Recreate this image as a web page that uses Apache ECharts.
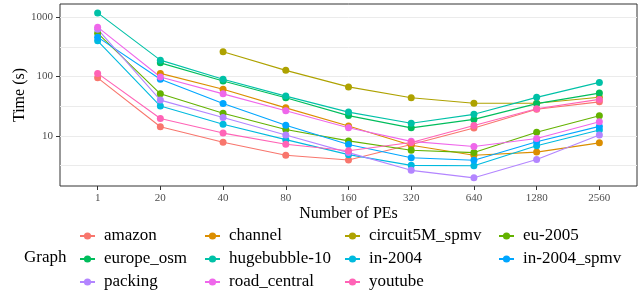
<!DOCTYPE html>
<html>
<head>
<meta charset="utf-8">
<script src="https://cdn.jsdelivr.net/npm/echarts@6/dist/echarts.min.js"></script>
<style>
  html, body { margin: 0; padding: 0; background: #fff; }
  #chart { width: 644px; height: 295px; }
</style>
</head>
<body>
<div id="chart"></div>
<script>
const categories = ['1', '20', '40', '80', '160', '320', '640', '1280', '2560'];

const amazon = [95, 14.2, 7.8, 4.7, 3.9, 7.1, 13.5, 28, 37.4];
const channel = [null, 113, 61, 29.6, 14.6, 6.9, 4.7, 5.3, 7.6];
const circuit5M_spmv = [null, null, 261, 127, 66.8, 43.8, 35.3, 35.3, 44.6];
const eu2005 = [540, 51, 24, 12.8, 8.2, 5.7, 5.2, 11.5, 21.7];
const europe_osm = [null, 170, 84, 43.7, 21.9, 13.6, 18.9, 34.9, 52.5];
const hugebubble10 = [1186, 189, 90, 46.7, 25.1, 16.3, 23, 44.5, 79.6];
const in2004 = [400, 31.7, 15.7, 8.6, 4.8, 3.17, 3.12, 6.8, 12.5];
const in2004_spmv = [462, 90, 35, 15.1, 7.1, 4.26, 3.86, 7.9, 14.4];
const packing = [630, 40, 20.3, 10.3, 5.2, 2.61, 1.95, 3.97, 10.3];
const road_central = [681, 98, 51, 26.4, 13.7, 8.05, 6.6, 9.0, 17.3];
const youtube = [113, 19.6, 11.1, 7.2, 5.6, 7.7, 14.9, 28.5, 41.1];

const yMajorTicks = [10, 100, 1000];
const yGridValues = [3.162, 10, 31.62, 100, 316.2, 1000];

const graphs = [
    ['amazon', amazon, '#F8766D'],
    ['channel', channel, '#DB8E00'],
    ['circuit5M_spmv', circuit5M_spmv, '#AEA200'],
    ['eu-2005', eu2005, '#64B200'],
    ['europe_osm', europe_osm, '#00BD5C'],
    ['hugebubble-10', hugebubble10, '#00C1A7'],
    ['in-2004', in2004, '#00BADE'],
    ['in-2004_spmv', in2004_spmv, '#00A6FF'],
    ['packing', packing, '#B385FF'],
    ['road_central', road_central, '#EF67EB'],
    ['youtube', youtube, '#FF63B6'],
];

const font = 'Liberation Serif';
const idx = categories.map((c, i) => i);

const legendCol = (names, left) => ({
    orient: 'vertical',
    left: left,
    top: 226,
    padding: 0,
    itemGap: 3,
    itemWidth: 15,
    itemHeight: 9,
    data: names,
    textStyle: { fontFamily: font, fontSize: 17, color: '#000', lineHeight: 20, padding: [0, 0, 0, 4] },
});

const chart = echarts.init(document.getElementById('chart'), null, { renderer: 'canvas' });

chart.setOption({
    animation: false,
    textStyle: { fontFamily: font },
    title: {
        text: 'Graph',
        left: 24,
        top: 249,
        padding: 0,
        textStyle: { fontFamily: font, fontSize: 17, fontWeight: 'normal', color: '#000' },
    },
    legend: [
        legendCol(['amazon', 'europe_osm', 'packing'], 79),
        legendCol(['channel', 'hugebubble-10', 'road_central'], 204),
        legendCol(['circuit5M_spmv', 'in-2004', 'youtube'], 344),
        legendCol(['eu-2005', 'in-2004_spmv'], 498),
    ],
    grid: {
        left: 60, right: 7, top: 4, bottom: 109,
        outerBoundsMode: 'none',
        containLabel: false,
        show: true,
        borderColor: '#333',
        borderWidth: 1,
    },
    xAxis: {
        type: 'value',
        min: -0.6,
        max: 8.6,
        name: 'Number of PEs',
        nameLocation: 'middle',
        nameGap: 20,
        nameMoveOverlap: false,
        nameTextStyle: { fontFamily: font, fontSize: 16, color: '#000' },
        axisLine: { show: false },
        axisTick: { show: true, length: 4, customValues: idx, lineStyle: { color: '#333' } },
        axisLabel: {
            customValues: idx,
            margin: 7,
            fontFamily: font,
            fontSize: 11,
            color: '#4d4d4d',
            formatter: v => categories[Math.round(v)],
        },
        splitLine: { show: false },
    },
    yAxis: [
        {
            type: 'log',
            logBase: 10,
            min: 1.42,
            max: 1675,
            axisLine: { show: false },
            axisTick: { show: false, customValues: yGridValues },
            axisLabel: { show: false },
            splitLine: { show: true, lineStyle: { color: '#ebebeb', width: 1 } },
        },
        {
            type: 'log',
            logBase: 10,
            min: 1.42,
            max: 1675,
            position: 'left',
            name: 'Time (s)',
            nameLocation: 'middle',
            nameGap: 32,
            nameRotate: 90,
            nameMoveOverlap: false,
            nameTextStyle: { fontFamily: font, fontSize: 16, color: '#000' },
            axisLine: { show: false },
            axisTick: { show: true, length: 4, customValues: yMajorTicks, lineStyle: { color: '#333' } },
            axisLabel: {
                customValues: yMajorTicks,
                margin: 7,
                fontFamily: font,
                fontSize: 11,
                color: '#4d4d4d',
                formatter: v => String(v),
            },
            splitLine: { show: false },
        },
    ],
    series: graphs.map(([name, values, color]) => ({
        name: name,
        type: 'line',
        yAxisIndex: 0,
        color: color,
        symbol: 'circle',
        symbolSize: 7,
        lineStyle: { width: 1.1 },
        data: values.map((v, i) => [i, v]).filter(d => d[1] != null),
    })),
});
</script>
</body>
</html>
